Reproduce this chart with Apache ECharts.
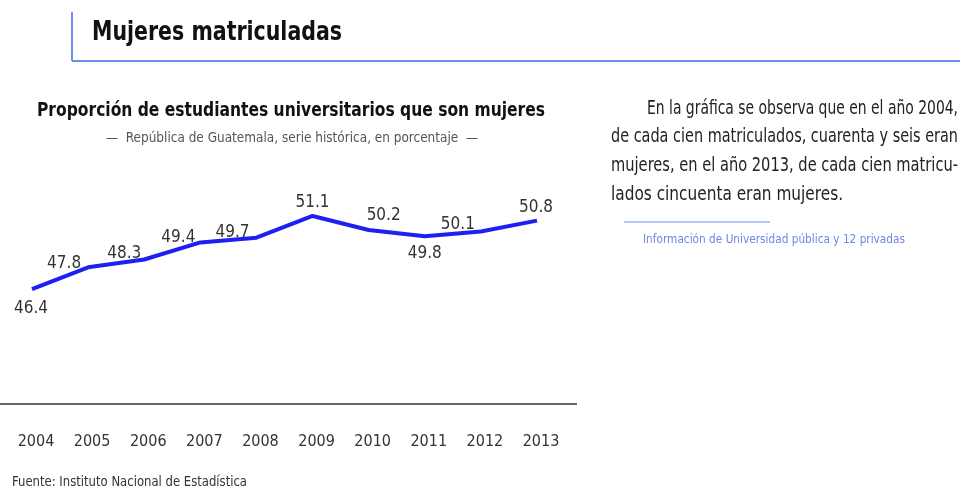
<!DOCTYPE html>
<html>
<head>
<meta charset="utf-8">
<script src="https://cdn.jsdelivr.net/npm/echarts@6/dist/echarts.min.js"></script>
<style>
  html, body { margin: 0; padding: 0; background: #fff; }
  #chart { width: 960px; height: 491px; }
</style>
</head>
<body>
<div id="chart"></div>
<script>
var years = ['2004', '2005', '2006', '2007', '2008', '2009', '2010', '2011', '2012', '2013'];
var shareWomen = [46.4, 47.8, 48.3, 49.4, 49.7, 51.1, 50.2, 49.8, 50.1, 50.8];

// where each value label sits relative to its point (style only)
var labelOffsets = [[-1, 33], [-24, 10], [-20, 8], [-22, 9], [-24, 8], [0, 0], [15, -1], [0, 31], [-23, 7], [-1, 0]];

var FONT = '"DejaVu Sans Condensed", "Open Sans", sans-serif';

// squeeze a text horizontally so it spans the given width, like the narrow font of the original
var ctx = document.createElement('canvas').getContext('2d');
function fitText(text, font, x, y, width, color) {
  ctx.font = font;
  var s = width / ctx.measureText(text).width;
  return {
    type: 'text', x: x, y: y, scaleX: s, originX: 0, originY: 0,
    style: { text: text, font: font, fill: color, align: 'left', verticalAlign: 'middle' }
  };
}

var chart = echarts.init(document.getElementById('chart'), null, { renderer: 'canvas' });

var option = {
  animation: false,
  textStyle: { fontFamily: FONT },
  grid: { left: 32, right: 423, top: 202, bottom: 87 },
  xAxis: {
    type: 'category',
    data: years,
    boundaryGap: false,
    axisLine: { show: false },
    axisTick: { show: false },
    axisLabel: { color: '#333', fontSize: 16, margin: 30, interval: 0, padding: [0, 0, 0, 8], fontFamily: FONT }
  },
  yAxis: {
    type: 'value',
    min: 39,
    max: 52,
    show: false
  },
  series: [{
    type: 'line',
    data: shareWomen.map(function (v, i) {
      return { value: v, label: { offset: labelOffsets[i] } };
    }),
    symbol: 'circle',
    symbolSize: 0,
    showSymbol: true,
    lineStyle: { color: '#1f1ff2', width: 4 },
    itemStyle: { color: '#1f1ff2' },
    label: {
      show: true,
      position: 'top',
      color: '#333',
      fontSize: 17,
      fontFamily: FONT
    }
  }],
  graphic: [
    { type: 'line', shape: { x1: 72, y1: 12, x2: 72, y2: 61 }, style: { stroke: '#6b8ff0', lineWidth: 2 } },
    { type: 'line', shape: { x1: 72, y1: 61, x2: 960, y2: 61 }, style: { stroke: '#6b8ff0', lineWidth: 2 } },
    fitText('Mujeres matriculadas', 'bold 26px ' + FONT, 92, 33, 250, '#111'),
    fitText('Proporción de estudiantes universitarios que son mujeres', 'bold 19px ' + FONT, 37, 111, 508, '#111'),
    fitText('—  República de Guatemala, serie histórica, en porcentaje  —', '14px ' + FONT, 106, 138, 372, '#555'),
    { type: 'line', shape: { x1: 0, y1: 404, x2: 577, y2: 404 }, style: { stroke: '#333', lineWidth: 1.5 } },
    fitText('Fuente: Instituto Nacional de Estadística', '14px ' + FONT, 12, 482, 235, '#333'),
    fitText('En la gráfica se observa que en el año 2004,', '19px ' + FONT, 647, 109, 311, '#222'),
    fitText('de cada cien matriculados, cuarenta y seis eran', '19px ' + FONT, 611, 137, 347, '#222'),
    fitText('mujeres, en el año 2013, de cada cien matricu-', '19px ' + FONT, 611, 166, 347, '#222'),
    fitText('lados cincuenta eran mujeres.', '19px ' + FONT, 611, 195, 232, '#222'),
    { type: 'line', shape: { x1: 624, y1: 222, x2: 770, y2: 222 }, style: { stroke: '#6b8ff0', lineWidth: 1 } },
    fitText('Información de Universidad pública y 12 privadas', '13px ' + FONT, 643, 240, 262, '#6f84e6')
  ]
};

chart.setOption(option);
window.addEventListener('resize', chart.resize);
</script>
</body>
</html>
